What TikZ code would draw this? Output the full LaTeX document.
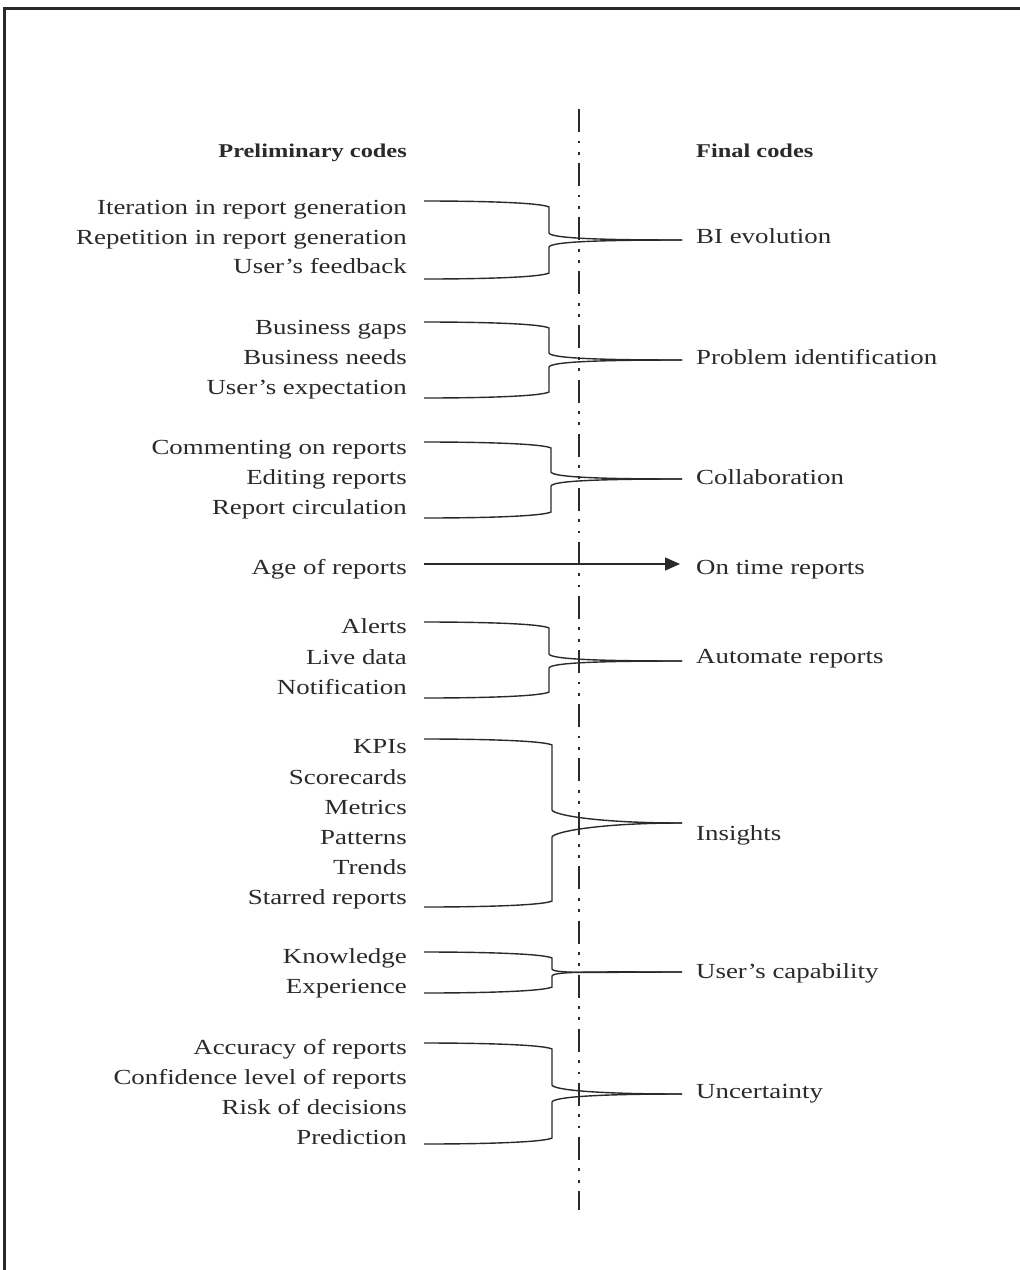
\documentclass[tikz,border=0pt]{standalone}
\usepackage{fontspec}
\setmainfont[FakeStretch=1.25]{Liberation Serif}
\usetikzlibrary{arrows.meta}
\definecolor{ink}{HTML}{2A2A2A}

% Two arms that leave the preliminary codes, drop to a vertical run and
% merge into a single point in front of the final code.
% #1 top y, #2 bottom y, #3 x of vertical run, #4 end of upper run,
% #5 start of lower run, #6 y of the merge point, #7 group name
\newcommand\mergelines[7]{%
  \coordinate (#7-top) at (424,#1);
  \coordinate (#7-bot) at (424,#2);
  \coordinate (#7-tip) at (682,#6);
  \draw[link] (#7-top) .. controls (490,#1) and ({#3-8},{#1+2}) .. ({#3},{#1+6})
     -- (#3,#4) .. controls ({#3+2},{#4+5}) and ({#3+45},#6) .. (#7-tip);
  \draw[link] (#7-bot) .. controls (490,#2) and ({#3-8},{#2-2}) .. ({#3},{#2-6})
     -- (#3,#5) .. controls ({#3+2},{#5-5}) and ({#3+45},#6) .. (#7-tip);
}

\begin{document}
\begin{tikzpicture}[x=1pt,y=-1pt,
  code/.style={anchor=base east,inner sep=0pt,text=ink,font=\fontsize{21.5}{25}\selectfont},
  final/.style={anchor=base west,inner sep=0pt,text=ink,font=\fontsize{21.5}{25}\selectfont},
  head/.style={inner sep=0pt,text=ink,font=\fontsize{19.5}{23}\selectfont\bfseries},
  link/.style={draw=ink,line width=1.4pt},
  frame/.style={draw=ink,line width=2.6pt},
  divider/.style={draw=ink,line width=2.8pt,
    dash pattern=on 23pt off 8.5pt on 2.8pt off 8.5pt on 2.8pt off 8.5pt}]

\useasboundingbox (0,0) rectangle (1020,1270);
\fill[white] (0,0) rectangle (1020,1270);

% frame
\coordinate (frameR) at (1020,8.5);
\coordinate (frameC) at (4.5,8.5);
\coordinate (frameB) at (4.5,1270);
\draw[frame] (frameR) -- (frameC) -- (frameB);

% dividing line
\coordinate (divtop) at (579,109);
\coordinate (divbot) at (579,1210);
\draw[divider] (divtop) -- (divbot);

% headings
\node[head,anchor=base east] (hpre) at (407,157) {Preliminary codes};
\node[head,anchor=base west] (hfin) at (696,157) {Final codes};

% BI evolution
\node[code] (c11) at (407,214) {Iteration in report generation};
\node[code] (c12) at (407,244) {Repetition in report generation};
\node[code] (c13) at (407,273) {User’s feedback};
\node[final] (f1) at (696,243) {BI evolution};
\mergelines{201}{279}{549}{233}{247}{240}{g1}

% Problem identification
\node[code] (c21) at (407,334) {Business gaps};
\node[code] (c22) at (407,364) {Business needs};
\node[code] (c23) at (407,394) {User’s expectation};
\node[final] (f2) at (696,364) {Problem identification};
\mergelines{322}{398}{549}{353}{367}{360}{g2}

% Collaboration
\node[code] (c31) at (407,454) {Commenting on reports};
\node[code] (c32) at (407,484) {Editing reports};
\node[code] (c33) at (407,514) {Report circulation};
\node[final] (f3) at (696,484) {Collaboration};
\mergelines{442}{518}{551}{472}{486}{479}{g3}

% On time reports
\node[code] (c41) at (407,574) {Age of reports};
\node[final] (f4) at (696,574) {On time reports};
\coordinate (g4-start) at (424,564);
\coordinate (g4-end) at (680,564);
\draw[link,-{Triangle[length=15pt,width=13pt]}] (g4-start) -- (g4-end);

% Automate reports
\node[code] (c51) at (407,633) {Alerts};
\node[code] (c52) at (407,664) {Live data};
\node[code] (c53) at (407,694) {Notification};
\node[final] (f5) at (696,663) {Automate reports};
\mergelines{622}{698}{549}{654}{668}{661}{g5}

% Insights
\node[code] (c61) at (407,753) {KPIs};
\node[code] (c62) at (407,784) {Scorecards};
\node[code] (c63) at (407,814) {Metrics};
\node[code] (c64) at (407,844) {Patterns};
\node[code] (c65) at (407,874) {Trends};
\node[code] (c66) at (407,904) {Starred reports};
\node[final] (f6) at (696,840) {Insights};
\mergelines{739}{907}{552}{810}{837}{823}{g6}

% User's capability
\node[code] (c71) at (407,963) {Knowledge};
\node[code] (c72) at (407,993) {Experience};
\node[final] (f7) at (696,978) {User’s capability};
\mergelines{952}{993}{552}{969}{976}{972}{g7}

% Uncertainty
\node[code] (c81) at (407,1054) {Accuracy of reports};
\node[code] (c82) at (407,1084) {Confidence level of reports};
\node[code] (c83) at (407,1114) {Risk of decisions};
\node[code] (c84) at (407,1144) {Prediction};
\node[final] (f8) at (696,1098) {Uncertainty};
\mergelines{1043}{1144}{552}{1085}{1102}{1094}{g8}

\end{tikzpicture}
\end{document}
